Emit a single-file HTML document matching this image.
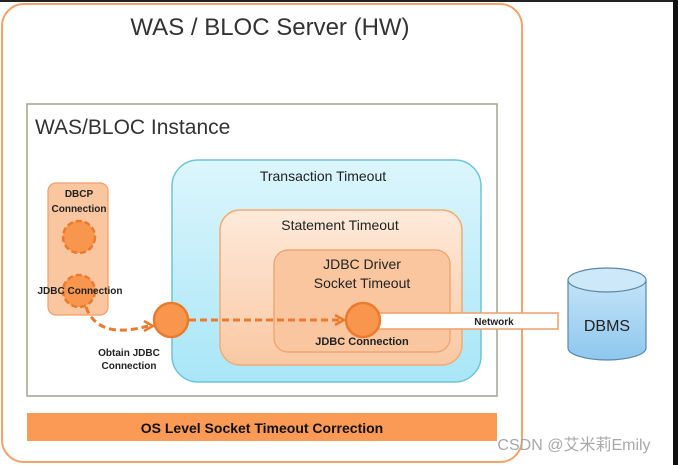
<!DOCTYPE html>
<html><head><style>
html,body{margin:0;padding:0;background:#fff;width:678px;height:465px;overflow:hidden}
svg text{font-family:"Liberation Sans","Noto Sans CJK SC",sans-serif}
</style></head><body>
<svg width="678" height="465" viewBox="0 0 678 465" xmlns="http://www.w3.org/2000/svg">
<defs>
<linearGradient id="cy" x1="0" y1="0" x2="0" y2="1"><stop offset="0" stop-color="#dcf6fc"/><stop offset="1" stop-color="#a9e6f7"/></linearGradient>
<linearGradient id="pe" x1="0" y1="0" x2="0" y2="1"><stop offset="0" stop-color="#feeadb"/><stop offset="1" stop-color="#f9c8a3"/></linearGradient>
<linearGradient id="db" x1="0" y1="0" x2="0" y2="1"><stop offset="0" stop-color="#c4e3f8"/><stop offset="1" stop-color="#8ec7ee"/></linearGradient>
</defs>
<rect x="0" y="0" width="678" height="2" fill="#222"/>
<rect x="673" y="0" width="5" height="465" fill="#111"/>
<rect x="2" y="4" width="520" height="458" rx="22" fill="#fff" stroke="#f4a36a" stroke-width="2"/>
<text x="270" y="35" font-size="24" fill="#333" text-anchor="middle">WAS / BLOC Server (HW)</text>
<rect x="27" y="104" width="470" height="292" fill="#fff" stroke="#a3a28f" stroke-width="1.5"/>
<text x="35" y="134" font-size="21" fill="#333">WAS/BLOC Instance</text>
<rect x="27" y="413" width="470" height="28" fill="#fb9a55"/>
<text x="262" y="433" font-size="14" font-weight="bold" fill="#111" text-anchor="middle">OS Level Socket Timeout Correction</text>
<rect x="172" y="160" width="309" height="222" rx="26" fill="url(#cy)" stroke="#6cc4dc" stroke-width="1.5"/>
<text x="323" y="181" font-size="14" fill="#222" text-anchor="middle">Transaction Timeout</text>
<rect x="220" y="210" width="242" height="155" rx="20" fill="url(#pe)" stroke="#f3aa74" stroke-width="1.5"/>
<text x="340" y="230" font-size="14" fill="#222" text-anchor="middle">Statement Timeout</text>
<rect x="274" y="250" width="176" height="102" rx="14" fill="#f9c6a0" stroke="#ef9f69" stroke-width="1.2"/>
<text x="362" y="269" font-size="14" fill="#222" text-anchor="middle">JDBC Driver</text>
<text x="362" y="288" font-size="14" fill="#222" text-anchor="middle">Socket Timeout</text>
<text x="362" y="345" font-size="11" font-weight="bold" fill="#222" text-anchor="middle">JDBC Connection</text>
<rect x="48" y="183" width="60" height="132" rx="8" fill="#f9c6a0" stroke="#ef9f69" stroke-width="1.2"/>
<text x="79" y="197" font-size="10" font-weight="bold" fill="#222" text-anchor="middle">DBCP</text>
<text x="79" y="212" font-size="10" font-weight="bold" fill="#222" text-anchor="middle">Connection</text>
<circle cx="79" cy="237" r="16" fill="#f8964e" stroke="#ec7a2c" stroke-width="2.5" stroke-dasharray="6,3"/>
<circle cx="79" cy="291" r="16" fill="#f8964e" stroke="#ec7a2c" stroke-width="2.5" stroke-dasharray="6,3"/>
<text x="80" y="294" font-size="10" font-weight="bold" fill="#222" text-anchor="middle">JDBC Connection</text>
<path d="M86 307 Q98 340 148 326" fill="none" stroke="#ec7a2c" stroke-width="3" stroke-dasharray="7,4"/>
<path d="M144 321 L153 326 L144 331" fill="none" stroke="#ec7a2c" stroke-width="2.5"/>
<text x="129" y="356" font-size="10" font-weight="bold" fill="#222" text-anchor="middle">Obtain JDBC</text>
<text x="129" y="369" font-size="10" font-weight="bold" fill="#222" text-anchor="middle">Connection</text>
<circle cx="171" cy="320" r="17" fill="#f8964e" stroke="#ec7a2c" stroke-width="2.5"/>
<line x1="189" y1="320" x2="340" y2="320" stroke="#ec7a2c" stroke-width="3" stroke-dasharray="7,4"/>
<path d="M335 315 L344 320 L335 325" fill="none" stroke="#ec7a2c" stroke-width="2.5"/>
<rect x="378" y="313" width="180" height="16" fill="#fff" stroke="#ef9f69" stroke-width="1.5"/>
<text x="494" y="325" font-size="10" font-weight="bold" fill="#222" text-anchor="middle">Network</text>
<circle cx="363" cy="320" r="17" fill="#f8964e" stroke="#ec7a2c" stroke-width="2.5"/>
<path d="M568 280 L568 348 A39 12 0 0 0 646 348 L646 280" fill="url(#db)" stroke="#5a88a8" stroke-width="1.2"/>
<ellipse cx="607" cy="280" rx="39" ry="12" fill="#cde8f9" stroke="#5a88a8" stroke-width="1.2"/>
<text x="607" y="331" font-size="16" fill="#222" text-anchor="middle">DBMS</text>
<text x="574" y="450" font-size="16" fill="#a8a8a8" text-anchor="middle">CSDN @艾米莉Emily</text>
</svg>
</body></html>
